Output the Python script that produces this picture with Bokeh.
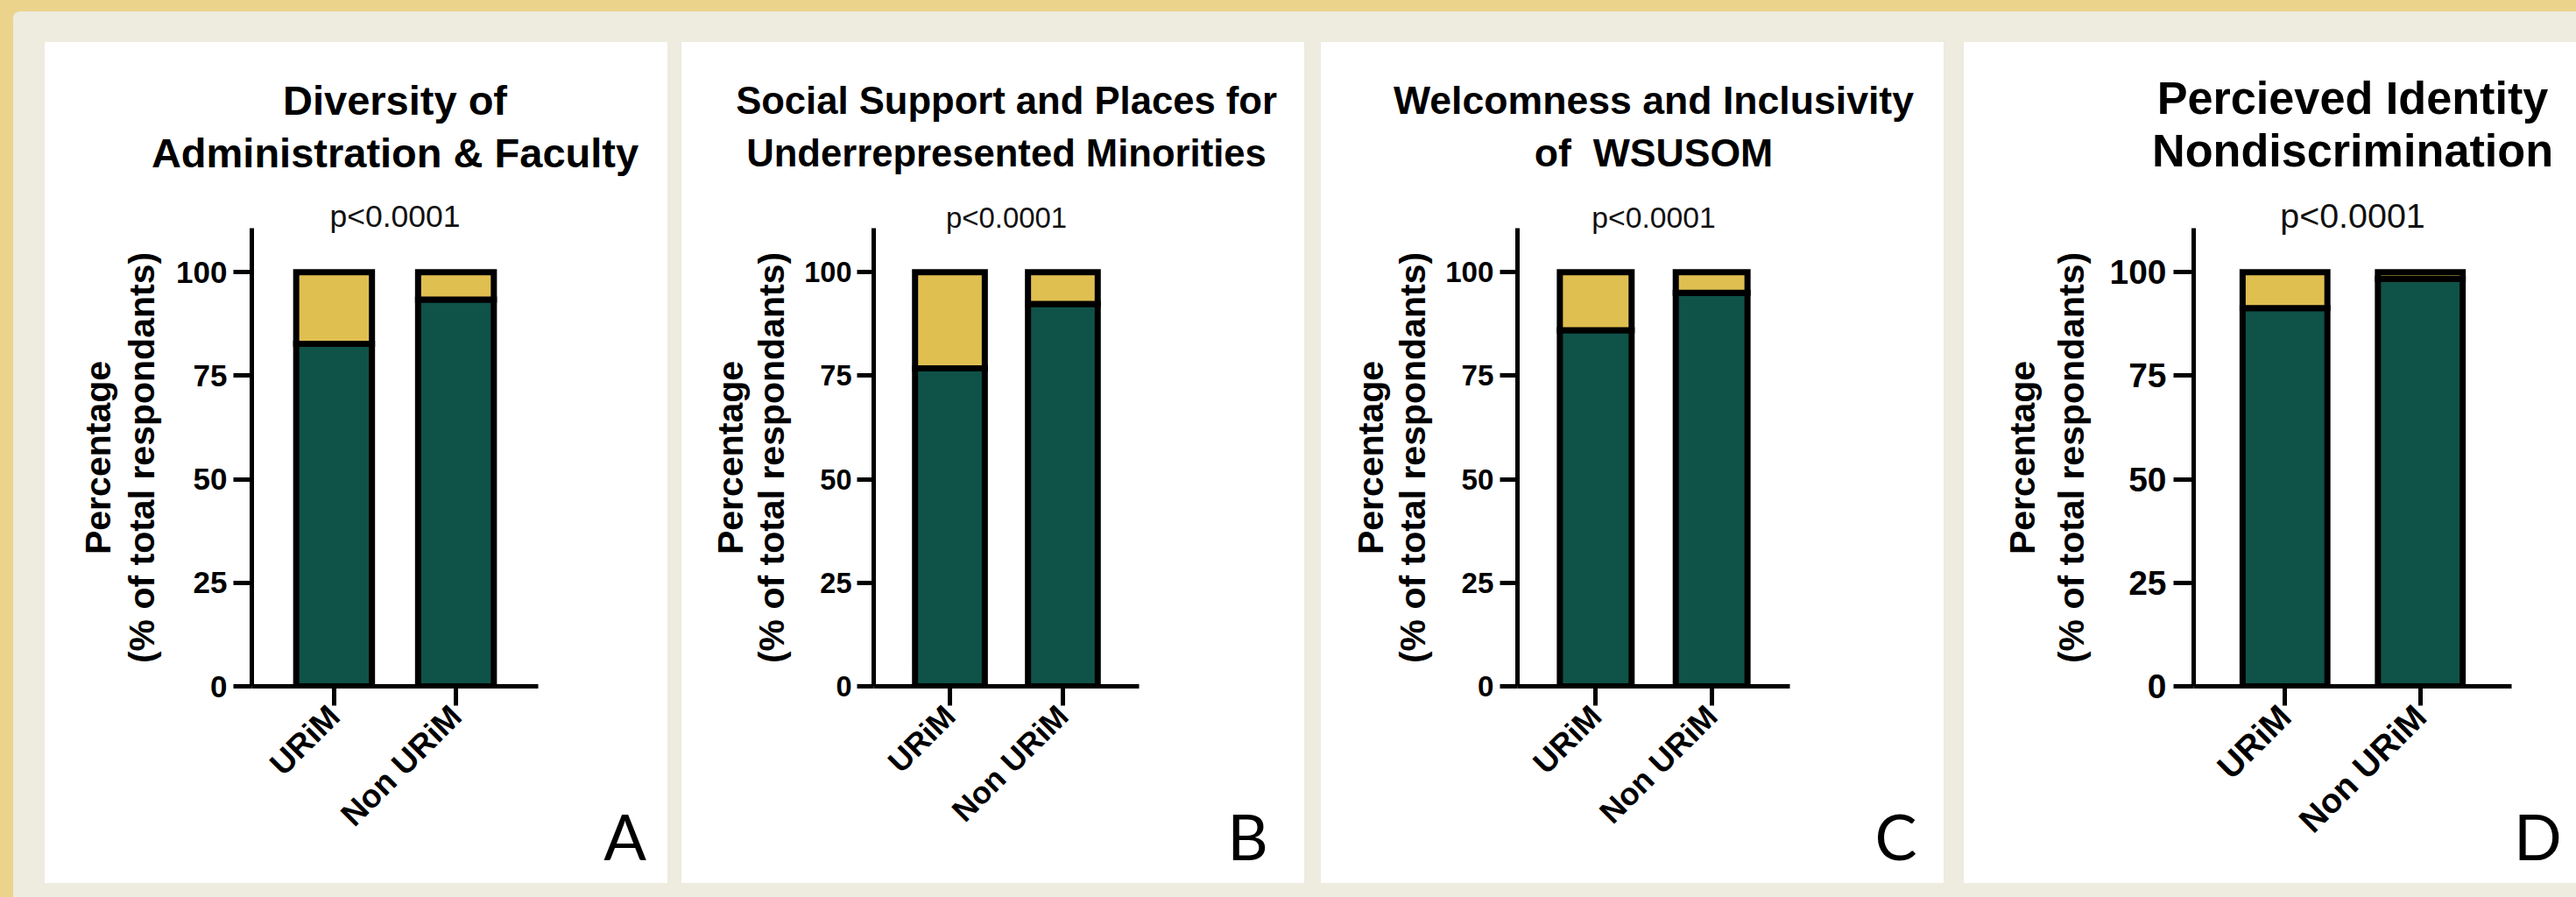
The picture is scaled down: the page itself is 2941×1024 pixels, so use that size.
import math

from bokeh.embed import file_html
from bokeh.layouts import column, row
from bokeh.models import ColumnDataSource, FactorRange, FixedTicker, Label, Range1d
from bokeh.plotting import figure
from bokeh.resources import INLINE

# ---- data -------------------------------------------------------------
groups = ["URiM", "Non URiM"]

titles = [
    ["Diversity of", "Administration & Faculty"],
    ["Social Support and Places for", "Underrepresented Minorities"],
    ["Welcomness and Inclusivity", "of\u00a0 WSUSOM"],
    ["Percieved Identity", "Nondiscrimination"],
]
panel_letters = ["A", "B", "C", "D"]
p_labels = ["p<0.0001", "p<0.0001", "p<0.0001", "p<0.0001"]

# share of respondents (%) per group: lower segment (green) and upper segment (gold)
green_pct = [
    [82.7, 93.4],
    [76.8, 92.3],
    [86.0, 95.0],
    [91.3, 98.4],
]
gold_pct = [
    [17.3, 6.6],
    [23.2, 7.7],
    [14.0, 5.0],
    [8.7, 1.6],
]

y_ticks = [0, 25, 50, 75, 100]
y_label_lines = ["Percentage", "(% of total respondants)"]

# ---- style ------------------------------------------------------------
GREEN = "#0f5248"
GOLD_BAR = "#e0bf51"
BEIGE = "#eeebdf"
FRAME_GOLD = "#ebd38c"
FONT = "Liberation Sans"

# horizontal scale of each panel and its placement in the strip
h_scale = [1.0, 0.928, 0.95, 1.111]
panel_w = [711, 711, 711, 699]
left_gap = [36, 16, 19, 23]
letter_cx = [662, 646, 656, 655]

FIG_H = 960
FRAME_TOP = 182
FRAME_BOTTOM_BORDER = 225
FRAME_H = FIG_H - FRAME_TOP - FRAME_BOTTOM_BORDER
PXU = 4.728                  # pixels per percentage point on the value axis
Y_END = FRAME_H / PXU
AXIS_TOP = 110.6
LW = 7                       # bar outline width
PAD = 0.175                  # category range padding on each side
LIFT = 0.37                  # baseline correction, as a fraction of the font size


def make_panel(k):
    s = h_scale[k]
    fl = round(236 * s)
    fw = round(327 * s)
    W = panel_w[k]
    step = fw / (2 + 2 * PAD)  # pixels per category

    def at(px, py):
        """frame-relative pixel offsets (from bottom-left) -> data coordinates"""
        return -PAD + px / step, py / PXU

    p = figure(
        x_range=FactorRange(*groups, range_padding=PAD),
        y_range=Range1d(0, Y_END),
        width=W, height=FIG_H,
        min_border_left=fl, min_border_right=W - fl - fw,
        min_border_top=FRAME_TOP, min_border_bottom=FRAME_BOTTOM_BORDER,
        output_backend="svg", toolbar_location=None,
        background_fill_color="white", border_fill_color="white",
        outline_line_color=None,
    )
    p.margin = (35, 0, 16, left_gap[k])
    p.styles = {"background-color": "white"}

    src = ColumnDataSource(dict(group=groups, green=green_pct[k], gold=gold_pct[k]))
    p.vbar_stack(
        ["green", "gold"], x="group", source=src,
        width=0.672 - LW / step,
        fill_color=[GREEN, GOLD_BAR], line_color="black",
        line_width=LW, line_join="miter",
    )

    p.xgrid.grid_line_color = None
    p.ygrid.grid_line_color = None

    # value axis
    ya = p.yaxis[0]
    ya.ticker = FixedTicker(ticks=y_ticks)
    ya.bounds = (0, AXIS_TOP)
    ya.axis_line_width = 5
    ya.axis_line_color = "black"
    ya.major_tick_line_width = 5
    ya.major_tick_line_color = "black"
    ya.major_tick_out = round(21 * s)
    ya.major_tick_in = 0
    ya.minor_tick_line_color = None
    ya.major_label_standoff = round(7 * s)
    ya.major_label_text_font = FONT
    ya.major_label_text_font_style = "bold"
    ya.major_label_text_font_size = f"{35 * s:.1f}px"
    ya.major_label_text_color = "black"

    # category axis
    xa = p.xaxis[0]
    xa.axis_line_width = 5
    xa.axis_line_color = "black"
    xa.major_tick_line_width = 5
    xa.major_tick_line_color = "black"
    xa.major_tick_out = 22
    xa.major_tick_in = 0
    xa.minor_tick_line_color = None
    xa.major_label_orientation = math.pi / 4
    xa.major_label_standoff = 6
    xa.major_label_text_font = FONT
    xa.major_label_text_font_style = "bold"
    xa.major_label_text_font_size = f"{37 * math.sqrt(s):.1f}px"
    xa.major_label_text_color = "black"

    # title (two lines) above the frame
    t_size = 47 * s
    for line, ty in zip(titles[k], [652, 592]):
        x, y = at(fw / 2, ty + LIFT * t_size)
        p.add_layout(Label(
            x=x, y=y, text=line,
            text_align="center", text_baseline="alphabetic",
            text_font=FONT, text_font_style="bold",
            text_font_size=f"{t_size:.1f}px", text_color="black",
        ), "above")

    # p-value over the bars
    p_size = 35.5 * s
    x, y = at(fw / 2, 523 + LIFT * p_size)
    p.add_layout(Label(
        x=x, y=y, text=p_labels[k],
        text_align="center", text_baseline="alphabetic",
        text_font=FONT, text_font_size=f"{p_size:.1f}px",
        text_color="#111111",
    ))

    # two-line value-axis title
    for line, lx in zip(y_label_lines, [-176, -126]):
        x, y = at(lx * s, 261)
        p.add_layout(Label(
            x=x, y=y, text=line,
            angle=math.pi / 2, text_align="center", text_baseline="alphabetic",
            text_font=FONT, text_font_style="bold",
            text_font_size="41px", text_color="black",
        ), "left")

    # panel letter (kept in the right-hand side panel)
    x, y = at(letter_cx[k] - fl, -197 + LIFT * 72)
    p.add_layout(Label(
        x=x, y=y, text=panel_letters[k],
        text_align="center", text_baseline="alphabetic",
        text_font="Lato", text_font_size="72px", text_color="black",
    ), "right")
    return p


figs = [make_panel(k) for k in range(4)]

strip = row(*figs, spacing=0,
            styles={"background-color": BEIGE, "border-top-left-radius": "8px"})
page = column(strip, styles={"background-color": FRAME_GOLD,
                             "padding-left": "15px", "padding-top": "13px"})

open("out.html", "w").write(file_html(page, INLINE))
